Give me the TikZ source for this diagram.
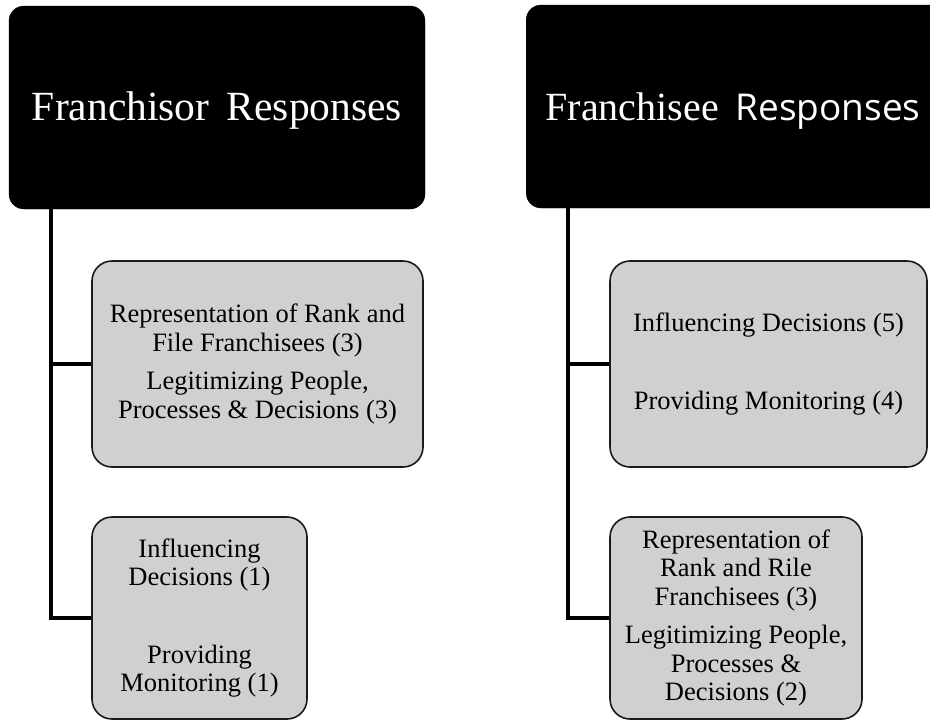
\documentclass[tikz,border=0pt]{standalone}
\usepackage{fontspec}
\setmainfont{Liberation Serif}
\newfontfamily\titlesans{Open Sans}
\definecolor{boxgrey}{HTML}{D0D0D0}
\definecolor{boxedge}{HTML}{1A1A1A}
\begin{document}
\begin{tikzpicture}[x=1pt,y=1pt,
  header/.style={fill=black,draw=black,rounded corners=15pt,inner sep=0pt,text=white,
    font=\fontsize{42}{46}\selectfont},
  leaf/.style={fill=boxgrey,draw=boxedge,line width=1.6pt,rounded corners=20pt,inner sep=0pt,
    align=center,font=\fontsize{26.5}{28.5}\selectfont},
  trunk/.style={line width=3.2pt,black}]
\useasboundingbox (0,0) rectangle (930,-721);
\fill[white] (0,0) rectangle (930,-721);
% headers
\node[header,minimum width=416pt,minimum height=203pt] (hL) at (217,-107.5) {};
\node[text=white,font=\fontsize{41.5}{46}\selectfont] (tL) at (217,-111) {Franchisor\, Responses};
\node[header,minimum width=420pt,minimum height=203pt,anchor=west] (hR) at (526,-106.5) {};
\node[text=white,font=\fontsize{40}{46}\selectfont] (tR) at (733,-111) {Franchisee\, {\titlesans\fontsize{37}{46}\selectfont Responses}};
% left leaves
\node[leaf,minimum width=331pt,minimum height=206pt] (bL1) at (257.5,-364)
  {Representation of Rank and\\File Franchisees (3)\\[10pt]Legitimizing People,\\Processes \& Decisions (3)};
\node[leaf,minimum width=215pt,minimum height=202pt] (bL2) at (199.5,-618)
  {Influencing\\Decisions (1)\\[49pt]Providing\\Monitoring (1)};
% right leaves
\node[leaf,minimum width=317pt,minimum height=206pt] (bR1) at (768.5,-364)
  {Influencing Decisions (5)\\[50pt]Providing Monitoring (4)};
\node[leaf,minimum width=252pt,minimum height=202pt] (bR2) at (736,-618)
  {Representation of\\Rank and Rile\\Franchisees (3)\\[10pt]Legitimizing People,\\Processes \&\\Decisions (2)};
% connectors
\coordinate (cL) at (51,-209);
\coordinate (cR) at (568,-208);
\draw[trunk] (cL) |- (bL1.west);
\draw[trunk] (cL) |- (bL2.west);
\draw[trunk] (cR) |- (bR1.west);
\draw[trunk] (cR) |- (bR2.west);
\end{tikzpicture}
\end{document}
